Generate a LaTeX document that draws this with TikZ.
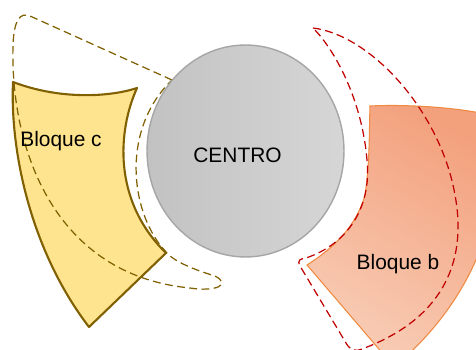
\documentclass[tikz,border=0pt]{standalone}
\usepackage{fontspec}
\setmainfont{Liberation Sans}
\usetikzlibrary{shapes.geometric}
\definecolor{olivec}{RGB}{128,96,0}
\definecolor{yellowc}{RGB}{255,228,143}
\definecolor{redb}{RGB}{192,0,0}
\definecolor{orangeb}{RGB}{240,138,64}
\definecolor{graycirc}{RGB}{166,166,166}
\begin{document}
\begin{tikzpicture}[
      x=0.02cm, y=-0.02cm,
      lbl/.style={font=\fontsize{11.9}{14}\selectfont, inner sep=0pt},
      blockc/.style={draw=olivec, fill=yellowc, line width=1.2pt, line join=round},
      blockb/.style={draw=orangeb, line width=0.6pt, top color={rgb,255:red,243;green,160;blue,124},
        bottom color={rgb,255:red,248;green,204;blue,181}, shading angle=-30},
      dashc/.style={draw=olivec, line width=0.7pt, dash pattern=on 4.5pt off 2.5pt},
      dashb/.style={draw=redb, line width=0.7pt, dash pattern=on 4.5pt off 2.5pt}
    ]
    \useasboundingbox (0,0) rectangle (476,350);
    \clip (0,0) rectangle (476,350);

    \path[blockc] (13,82) .. controls (60,100) and (110,97) .. (137,88)
      .. controls (118,130) and (112,200) .. (166,253) -- (89,327)
      .. controls (30,250) and (10,150) .. (13,82) -- cycle;
    \path[dashc] (172,80) -- (30,16) .. controls (20,12) and (14,20) .. (13,45)
      .. controls (10,150) and (55,275) .. (190,288)
      .. controls (215,292) and (232,285) .. (215,276)
      .. controls (195,270) and (175,262) .. (167,253)
      .. controls (130,215) and (120,130) .. (172,80) -- cycle;

    \path[blockb] (370,106) .. controls (410,104) and (470,108) .. (500,118)
      .. controls (505,220) and (470,300) .. (400,362) -- (390,362) -- (307,265)
      .. controls (330,250) and (355,230) .. (365,195)
      .. controls (370,160) and (369,135) .. (370,106) -- cycle;
    \path[dashb] (313,28) .. controls (370,35) and (440,110) .. (455,195)
      .. controls (468,265) and (440,320) .. (362,349)
      .. controls (355,352) and (350,350) .. (346,343) -- (300,266)
      .. controls (297,260) and (300,259) .. (306,258)
      .. controls (345,245) and (372,210) .. (367,160)
      .. controls (362,100) and (335,50) .. (313,28) -- cycle;

    \node[ellipse, draw=graycirc, line width=0.8pt, minimum width=3.94cm, minimum height=4.24cm,
      left color={rgb,255:red,194;green,194;blue,194}, right color={rgb,255:red,214;green,214;blue,214}]
      (centro) at (245.5,151) {};

    \node[lbl] (centrotxt) at (237.5,155) {CENTRO};
    \node[lbl] (bloquec) at (61,141) {Bloque c};
    \node[lbl] (bloqueb) at (398,264) {Bloque b};
  \end{tikzpicture}
\end{document}
